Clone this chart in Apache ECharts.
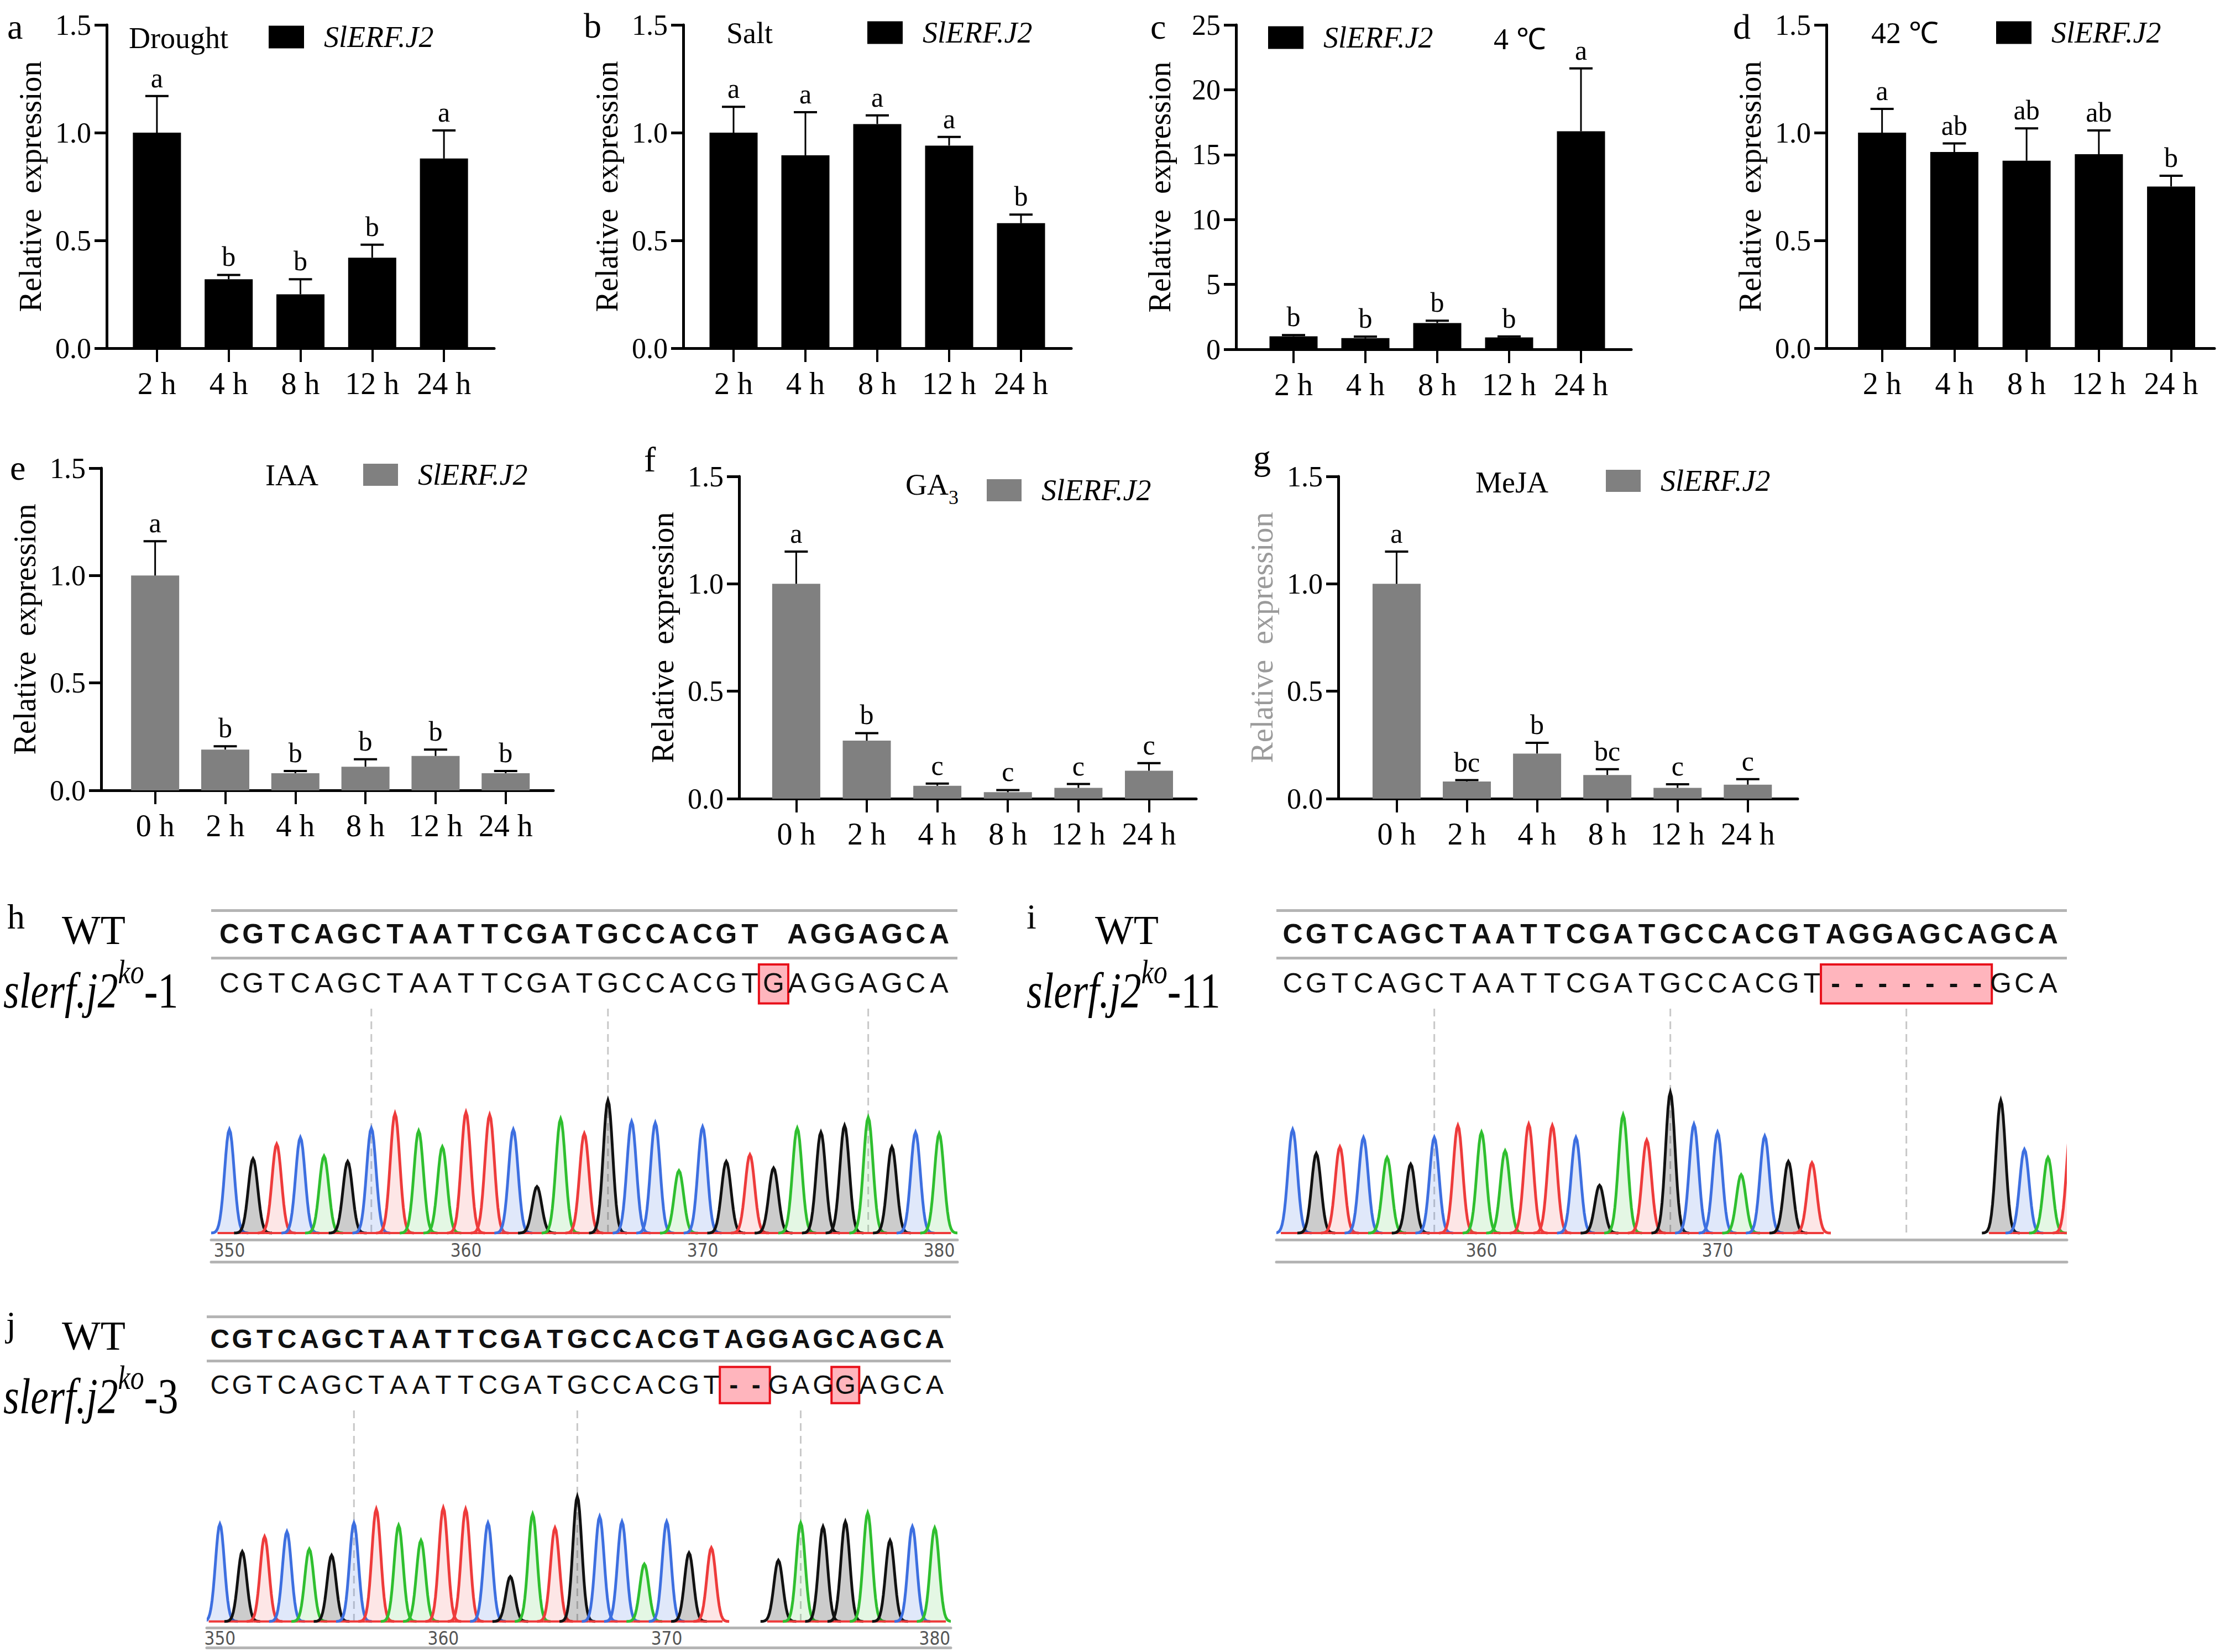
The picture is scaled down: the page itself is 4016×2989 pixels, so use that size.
<!DOCTYPE html>
<html>
<head>
<meta charset="utf-8">
<script src="https://cdn.jsdelivr.net/npm/echarts@6/dist/echarts.min.js"></script>
<style>
html, body { margin: 0; padding: 0; background: #fff; }
#main { width: 4016px; height: 2989px; }
</style>
</head>
<body>
<div id="main"></div>
<script>
// ---- qPCR data (mean, error, significance letters) ----
var hoursA = ['2 h', '4 h', '8 h', '12 h', '24 h'];
var hoursE = ['0 h', '2 h', '4 h', '8 h', '12 h', '24 h'];

var droughtMean = [1.0, 0.32, 0.25, 0.42, 0.88];
var droughtErr = [0.17, 0.02, 0.07, 0.06, 0.13];
var droughtSig = ['a', 'b', 'b', 'b', 'a'];

var saltMean = [1.0, 0.895, 1.04, 0.94, 0.58];
var saltErr = [0.12, 0.2, 0.04, 0.04, 0.04];
var saltSig = ['a', 'a', 'a', 'a', 'b'];

var coldMean = [1.0, 0.86, 2.02, 0.92, 16.8];
var coldErr = [0.1, 0.12, 0.18, 0.07, 4.85];
var coldSig = ['b', 'b', 'b', 'b', 'a'];

var heatMean = [1.0, 0.91, 0.87, 0.9, 0.75];
var heatErr = [0.11, 0.04, 0.15, 0.11, 0.05];
var heatSig = ['a', 'ab', 'ab', 'ab', 'b'];

var iaaMean = [1.0, 0.19, 0.08, 0.11, 0.16, 0.08];
var iaaErr = [0.16, 0.015, 0.01, 0.035, 0.03, 0.01];
var iaaSig = ['a', 'b', 'b', 'b', 'b', 'b'];

var gaMean = [1.0, 0.27, 0.06, 0.03, 0.05, 0.13];
var gaErr = [0.15, 0.035, 0.01, 0.01, 0.018, 0.035];
var gaSig = ['a', 'b', 'c', 'c', 'c', 'c'];

var mejaMean = [1.0, 0.08, 0.21, 0.11, 0.05, 0.065];
var mejaErr = [0.15, 0.006, 0.05, 0.027, 0.017, 0.026];
var mejaSig = ['a', 'bc', 'b', 'bc', 'c', 'c'];

// ---- sequencing data ----
var hWT = 'CGTCAGCTAATTCGATGCCACGT AGGAGCA', hWTStart = 350;
var hMut = 'CGTCAGCTAATTCGATGCCACGTGAGGAGCA', hMutStart = 350;
var hBoxes = [[373, 373]];
var hGuides = [356, 366, 377];
var hTickCols = [350, 360, 370, 380], hTickLabels = ['350', '360', '370', '380'];
var hPeakStart = 350;
var hPeakBases = 'CGTCAGCTAATTCGATGCCACGTGAGGAGCA';
var hPeakHeights = [78, 56, 67, 72, 58, 54, 79, 90, 77, 65, 91, 89, 78, 35, 86, 75, 100, 84, 83, 47, 80, 54, 59, 49, 79, 76, 81, 87, 65, 76, 75];

var iWT = 'CGTCAGCTAATTCGATGCCACGTAGGAGCAGCA', iWTStart = 352;
var iMut = 'CGTCAGCTAATTCGATGCCACGT-------GCA', iMutStart = 352;
var iBoxes = [[375, 381]];
var iGuides = [358, 368, 378];
var iTickCols = [360, 370], iTickLabels = ['360', '370'];
var iPeakStart1 = 352;
var iPeakBases1 = 'CGTCAGCTAATTCGATGCCACGT';
var iPeakHeights1 = [78, 60, 65, 72, 57, 52, 72, 81, 76, 62, 82, 81, 72, 36, 89, 70, 106, 82, 76, 44, 73, 54, 53];
var iPeakStart2 = 382;
var iPeakBases2 = 'GCAT';
var iPeakHeights2 = [100, 63, 57, 87];

var jWT = 'CGTCAGCTAATTCGATGCCACGTAGGAGCAGCA', jWTStart = 350;
var jMut = 'CGTCAGCTAATTCGATGCCACGT--GAGGAGCA', jMutStart = 350;
var jBoxes = [[373, 374], [378, 378]];
var jGuides = [356, 366, 376];
var jTickCols = [350, 360, 370, 382], jTickLabels = ['350', '360', '370', '380'];
var jPeakStart1 = 350;
var jPeakBases1 = 'CGTCAGCTAATTCGATGCCACGT';
var jPeakHeights1 = [78, 56, 68, 72, 58, 53, 79, 90, 77, 65, 91, 90, 79, 36, 86, 75, 100, 84, 80, 46, 80, 55, 59];
var jPeakStart2 = 375;
var jPeakBases2 = 'GAGGAGCA';
var jPeakHeights2 = [49, 79, 76, 80, 87, 65, 76, 75];

// ---- styles ----
var serif = "'Liberation Serif', 'Times New Roman', serif";
var sans = "'Liberation Sans', Arial, sans-serif";
var narrow = "'Liberation Sans Narrow', 'DejaVu Sans Condensed', sans-serif";
var peakColor = { A: '#2fbf2f', C: '#3d6fe0', G: '#111111', T: '#ee3b3b' };
var peakFill = { A: 'rgba(47,191,47,0.13)', C: 'rgba(61,111,224,0.16)', G: 'rgba(0,0,0,0.2)', T: 'rgba(238,59,59,0.13)' };

var barPanels = [
    { left: 193, top: 45, width: 701, height: 585, xmin: -0.7, xmax: 4.7, ymax: 1.5, yint: 0.5, cats: hoursA,
      mean: droughtMean, err: droughtErr, sig: droughtSig, color: '#000', nameColor: '#000', legLeft: 486, legMid: 70, legW: 64, legH: 41 },
    { left: 1236, top: 45, width: 702, height: 585, xmin: -0.7, xmax: 4.7, ymax: 1.5, yint: 0.5, cats: hoursA,
      mean: saltMean, err: saltErr, sig: saltSig, color: '#000', nameColor: '#000', legLeft: 1569, legMid: 62, legW: 64, legH: 41 },
    { left: 2236, top: 45, width: 715, height: 587, xmin: -0.8, xmax: 4.7, ymax: 25, yint: 5, cats: hoursA,
      mean: coldMean, err: coldErr, sig: coldSig, color: '#000', nameColor: '#000', legLeft: 2294, legMid: 71, legW: 64, legH: 41 },
    { left: 3304, top: 45, width: 702, height: 585, xmin: -0.77, xmax: 4.6, ymax: 1.5, yint: 0.5, cats: hoursA,
      mean: heatMean, err: heatErr, sig: heatSig, color: '#000', nameColor: '#000', legLeft: 3611, legMid: 62, legW: 64, legH: 41 },
    { left: 183, top: 847, width: 818, height: 583, xmin: -0.77, xmax: 5.68, ymax: 1.5, yint: 0.5, cats: hoursE,
      mean: iaaMean, err: iaaErr, sig: iaaSig, color: '#808080', nameColor: '#000', legLeft: 657, legMid: 862, legW: 63, legH: 40 },
    { left: 1337, top: 862, width: 827, height: 583, xmin: -0.81, xmax: 5.67, ymax: 1.5, yint: 0.5, cats: hoursE,
      mean: gaMean, err: gaErr, sig: gaSig, color: '#808080', nameColor: '#000', legLeft: 1785, legMid: 890, legW: 63, legH: 40 },
    { left: 2421, top: 862, width: 831, height: 583, xmin: -0.83, xmax: 5.71, ymax: 1.5, yint: 0.5, cats: hoursE,
      mean: mejaMean, err: mejaErr, sig: mejaSig, color: '#808080', nameColor: '#9a9a9a', legLeft: 2905, legMid: 873, legW: 63, legH: 40 }
];

var seqPanels = [
    { left: 382, width: 1350, xmin: 349.23, xmax: 380.77, seqTop: 1647, seqH: 172, chromTop: 1825, chromH: 418, lowOffset: 40, fs: 50,
      wt: hWT, wtStart: hWTStart, mut: hMut, mutStart: hMutStart, boxes: hBoxes, guides: hGuides, tickCols: hTickCols, tickLabels: hTickLabels,
      segs: [{ start: hPeakStart, bases: hPeakBases, heights: hPeakHeights }] },
    { left: 2309, width: 1430, xmin: 351.31, xmax: 384.8, seqTop: 1647, seqH: 172, chromTop: 1825, chromH: 418, lowOffset: 40, fs: 50,
      wt: iWT, wtStart: iWTStart, mut: iMut, mutStart: iMutStart, boxes: iBoxes, guides: iGuides, tickCols: iTickCols, tickLabels: iTickLabels,
      segs: [{ start: iPeakStart1, bases: iPeakBases1, heights: iPeakHeights1 }, { start: iPeakStart2, bases: iPeakBases2, heights: iPeakHeights2 }] },
    { left: 374, width: 1346, xmin: 349.41, xmax: 382.72, seqTop: 2382, seqH: 160, chromTop: 2552, chromH: 393, lowOffset: 36, fs: 48,
      wt: jWT, wtStart: jWTStart, mut: jMut, mutStart: jMutStart, boxes: jBoxes, guides: jGuides, tickCols: jTickCols, tickLabels: jTickLabels,
      segs: [{ start: jPeakStart1, bases: jPeakBases1, heights: jPeakHeights1 }, { start: jPeakStart2, bases: jPeakBases2, heights: jPeakHeights2 }] }
];

var grids = [], xAxes = [], yAxes = [], series = [], legends = [], graphics = [];

function txt(x, y, text, size, extra, elExtra) {
    var st = { text: text, fill: '#000', fontFamily: serif, fontSize: size,
        align: 'left', verticalAlign: 'middle', textAlign: 'left', textVerticalAlign: 'middle' };
    for (var k in extra) st[k] = extra[k];
    var el = { type: 'text', x: x, y: y, silent: true, style: st };
    for (var m in elExtra) el[m] = elExtra[m];
    graphics.push(el);
}

// bar panels
barPanels.forEach(function (p) {
    var gi = grids.length, xi = xAxes.length, yi = yAxes.length;
    var idx = p.cats.map(function (c, k) { return k; });
    grids.push({ left: p.left, top: p.top, width: p.width, height: p.height });
    xAxes.push({
        gridIndex: gi, type: 'value', min: p.xmin, max: p.xmax, splitLine: { show: false },
        axisLine: { show: true, onZero: false, lineStyle: { color: '#000', width: 5 } },
        axisTick: { show: true, customValues: idx, length: 25, lineStyle: { color: '#000', width: 4 } },
        axisLabel: { customValues: idx, formatter: function (v) { return p.cats[Math.round(v)]; },
            fontFamily: serif, fontSize: 56, color: '#000', margin: 36 }
    });
    yAxes.push({
        gridIndex: gi, type: 'value', min: 0, max: p.ymax, interval: p.yint, splitLine: { show: false },
        axisLine: { show: true, onZero: false, lineStyle: { color: '#000', width: 5 } },
        axisTick: { show: true, length: 22, lineStyle: { color: '#000', width: 5 } },
        axisLabel: { formatter: function (v) { return p.yint < 1 ? v.toFixed(1) : String(v); },
            fontFamily: serif, fontSize: 52, color: '#000', margin: 28 },
        name: 'Relative  expression', nameLocation: 'middle', nameGap: 110,
        nameTextStyle: { fontFamily: serif, fontSize: 56, color: p.nameColor }
    });
    series.push({
        name: 'SlERF.J2', type: 'bar', xAxisIndex: xi, yAxisIndex: yi, barWidth: 87,
        itemStyle: { color: p.color }, silent: true,
        data: p.mean.map(function (v, k) { return [k, v]; })
    });
    series.push({
        type: 'custom', xAxisIndex: xi, yAxisIndex: yi, z: 3, silent: true,
        data: p.mean.map(function (v, k) { return [k, v, p.err[k]]; }),
        renderItem: function (params, api) {
            var x = api.value(0), m = api.value(1), e = api.value(2);
            var lo = api.coord([x, m]), hi = api.coord([x, m + e]);
            return { type: 'group', children: [
                { type: 'line', shape: { x1: lo[0], y1: lo[1], x2: hi[0], y2: hi[1] }, style: { stroke: '#000', lineWidth: 3 } },
                { type: 'line', shape: { x1: hi[0] - 21, y1: hi[1], x2: hi[0] + 21, y2: hi[1] }, style: { stroke: '#000', lineWidth: 4 } },
                { type: 'text', x: hi[0], y: hi[1] - 8, style: { text: p.sig[params.dataIndex], fill: '#000',
                    fontFamily: serif, fontSize: 50, align: 'center', verticalAlign: 'bottom',
                    textAlign: 'center', textVerticalAlign: 'bottom' } }
            ] };
        }
    });
    legends.push({
        left: p.legLeft, top: p.legMid - 30, padding: 0, itemWidth: p.legW, itemHeight: p.legH,
        icon: 'rect', selectedMode: false,
        data: [{ name: 'SlERF.J2', itemStyle: { color: p.color } }],
        textStyle: { fontFamily: serif, fontSize: 54, fontStyle: 'italic', color: '#000', padding: [0, 0, 0, 31] }
    });
});

// sequencing panels
seqPanels.forEach(function (p) {
    // sequence rows grid
    var sg = grids.length, sx = xAxes.length, sy = yAxes.length;
    grids.push({ left: p.left, top: p.seqTop, width: p.width, height: p.seqH });
    xAxes.push({ gridIndex: sg, type: 'value', min: p.xmin, max: p.xmax, show: false });
    yAxes.push({ gridIndex: sg, type: 'value', min: 0, max: 2, interval: 1,
        axisLine: { show: false }, axisTick: { show: false }, axisLabel: { show: false },
        splitLine: { show: true, showMinLine: false, lineStyle: { color: '#b4b4b4', width: 5 } } });

    series.push({
        type: 'custom', xAxisIndex: sx, yAxisIndex: sy, silent: true, z: 2,
        data: p.boxes.map(function (b) { return [b[0], b[1]]; }),
        renderItem: function (params, api) {
            var a = api.coord([api.value(0) - 0.62, 0.86]);
            var b = api.coord([api.value(1) + 0.62, 0.04]);
            return { type: 'rect', shape: { x: a[0], y: a[1], width: b[0] - a[0], height: b[1] - a[1] },
                style: { fill: '#ffb5bd', stroke: '#e8101a', lineWidth: 4 } };
        }
    });

    [[p.wt, p.wtStart, 1.5, true], [p.mut, p.mutStart, 0.46, false]].forEach(function (row) {
        var str = row[0], data = [];
        for (var k = 0; k < str.length; k++) {
            if (str.charAt(k) !== ' ') data.push([row[1] + k, row[2], k]);
        }
        series.push({
            type: 'custom', xAxisIndex: sx, yAxisIndex: sy, silent: true, z: 4, data: data,
            renderItem: function (params, api) {
                var pt = api.coord([api.value(0), api.value(1)]);
                var ch = str.charAt(api.value(2));
                return { type: 'text', x: pt[0], y: pt[1], style: { text: ch, fill: '#111',
                    fontFamily: sans, fontSize: p.fs, fontWeight: (row[3] || ch === '-') ? 'bold' : 'normal',
                    align: 'center', verticalAlign: 'middle', textAlign: 'center', textVerticalAlign: 'middle' } };
            }
        });
    });

    // chromatogram grid
    var cg = grids.length, cx = xAxes.length, cy = yAxes.length;
    grids.push({ left: p.left, top: p.chromTop, width: p.width, height: p.chromH });
    xAxes.push({
        gridIndex: cg, type: 'value', min: p.xmin, max: p.xmax, splitLine: { show: false },
        axisLine: { show: true, onZero: false, lineStyle: { color: '#b4b4b4', width: 5 } },
        axisTick: { show: false },
        axisLabel: { customValues: p.tickCols, formatter: function (v) { return p.tickLabels[p.tickCols.indexOf(Math.round(v))]; },
            fontFamily: narrow, fontSize: 33, color: '#555', margin: 3 }
    });
    xAxes.push({
        gridIndex: cg, type: 'value', position: 'bottom', offset: p.lowOffset, min: p.xmin, max: p.xmax,
        splitLine: { show: false }, axisTick: { show: false }, axisLabel: { show: false },
        axisLine: { show: true, onZero: false, lineStyle: { color: '#b4b4b4', width: 5 } }
    });
    yAxes.push({ gridIndex: cg, type: 'value', min: -4, max: 170, show: false });

    series.push({
        type: 'custom', xAxisIndex: cx, yAxisIndex: cy, silent: true, z: 1,
        data: p.guides.map(function (g) { return [g, 0]; }),
        renderItem: function (params, api) {
            var pt = api.coord([api.value(0), 0]);
            var cs = params.coordSys;
            return { type: 'line', shape: { x1: pt[0], y1: cs.y, x2: pt[0], y2: cs.y + cs.height - 6 },
                style: { stroke: '#c8c8c8', lineWidth: 3, lineDash: [14, 9] } };
        }
    });

    var pdata = [], pbases = [];
    p.segs.forEach(function (s) {
        for (var k = 0; k < s.heights.length; k++) {
            pdata.push([s.start + k, s.heights[k], pbases.length]);
            pbases.push(s.bases.charAt(k));
        }
    });
    series.push({
        type: 'custom', xAxisIndex: cx, yAxisIndex: cy, silent: true, clip: true, z: 2, data: pdata,
        renderItem: function (params, api) {
            var c = api.value(0), h = api.value(1), b = pbases[api.value(2)];
            var pts = [];
            for (var s = -16; s <= 16; s++) {
                var t = s * 0.05;
                pts.push(api.coord([c + t, 1 + h * Math.exp(-t * t / 0.08)]));
            }
            var b0 = api.coord([c - 0.5, 1]), b1 = api.coord([c + 0.5, 1]);
            return { type: 'group', children: [
                { type: 'polygon', shape: { points: pts }, style: { fill: peakFill[b] } },
                { type: 'line', shape: { x1: b0[0], y1: b0[1], x2: b1[0], y2: b1[1] }, style: { stroke: '#ee3b3b', lineWidth: 4 } },
                { type: 'polyline', shape: { points: pts }, style: { stroke: peakColor[b], lineWidth: 5, fill: null } }
            ] };
        }
    });
});

// panel letters
[['a', 13, 70], ['b', 1056, 68], ['c', 2081, 70], ['d', 3135, 70],
 ['e', 18, 868], ['f', 1165, 853], ['g', 2267, 849],
 ['h', 13, 1680], ['i', 1857, 1680], ['j', 11, 2417]].forEach(function (l) {
    txt(l[1], l[2] - 22, l[0], 64);
});

// treatment labels
txt(233, 69, 'Drought', 54);
txt(1314, 60, 'Salt', 54);
txt(2702, 71, '4 \u2103', 54);
txt(3385, 60, '42 \u2103', 54);
txt(480, 860, 'IAA', 54);
txt(2669, 873, 'MeJA', 54);
txt(1638, 884, '{n|GA}{s|3}', 54, { rich: {
    n: { fontFamily: serif, fontSize: 54, verticalAlign: 'bottom', padding: [0, 0, 14, 0] },
    s: { fontFamily: serif, fontSize: 36, verticalAlign: 'bottom' } } });

// genotype labels
[[112, 1707], [1981, 1707], [112, 2441]].forEach(function (w) { txt(w[0], w[1] - 24, 'WT', 74); });
[[6, 1813, '-1'], [1857, 1813, '-11'], [6, 2547, '-3']].forEach(function (s) {
    txt(s[0], s[1] - 30, '{it|slerf.j2}{sup|ko}{rg|' + s[2] + '}', 74, { rich: {
        it: { fontFamily: serif, fontSize: 74, fontStyle: 'italic', verticalAlign: 'bottom' },
        sup: { fontFamily: serif, fontSize: 50, fontStyle: 'italic', verticalAlign: 'bottom', padding: [0, 0, 40, 0] },
        rg: { fontFamily: serif, fontSize: 74, verticalAlign: 'bottom' } } }, { scaleY: 1.22 });
});

var option = {
    animation: false,
    backgroundColor: '#fff',
    grid: grids,
    xAxis: xAxes,
    yAxis: yAxes,
    legend: legends,
    series: series,
    graphic: graphics
};

var chart = echarts.init(document.getElementById('main'), null, { renderer: 'svg', width: 4016, height: 2989 });
chart.setOption(option);
</script>
</body>
</html>
